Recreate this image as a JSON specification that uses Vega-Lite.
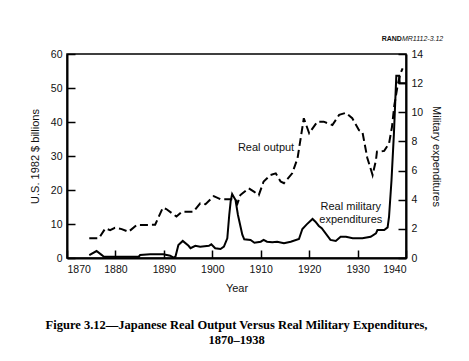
{
  "$schema": "https://vega.github.io/schema/vega-lite/v6.json",
  "width": 339,
  "height": 204,
  "autosize": "none",
  "padding": {"left": 67, "top": 54, "right": 63, "bottom": 103},
  "background": "white",
  "config": {
    "view": {"stroke": "black", "strokeWidth": 1.5},
    "font": "Liberation Sans",
    "axis": {
      "domainColor": "black", "domainWidth": 2,
      "tickColor": "black", "tickWidth": 1.5, "tickSize": -8,
      "labelFont": "Liberation Sans", "labelFontSize": 10.5, "labelColor": "#111",
      "titleFont": "Liberation Sans", "titleFontSize": 11, "titleFontWeight": "normal", "titleColor": "#111",
      "grid": false
    }
  },
  "title": {
    "text": ["Figure 3.12—Japanese Real Output Versus Real Military Expenditures,", "1870–1938"],
    "orient": "bottom", "anchor": "middle",
    "font": "Liberation Serif", "fontSize": 12.5, "fontWeight": "bold", "color": "black",
    "offset": 25, "lineHeight": 15
  },
  "datasets": {
    "output": [
      {"year": 1874.6, "value": 5.8}, {"year": 1876.6, "value": 5.8}, {"year": 1877.9, "value": 8.7},
      {"year": 1878.9, "value": 8.2}, {"year": 1879.9, "value": 8.9}, {"year": 1881.3, "value": 8.5},
      {"year": 1882.7, "value": 7.7}, {"year": 1884.4, "value": 9.7}, {"year": 1886.8, "value": 9.7},
      {"year": 1888.2, "value": 9.8}, {"year": 1889.8, "value": 14.8}, {"year": 1890.5, "value": 14.4},
      {"year": 1892.6, "value": 12.2}, {"year": 1893.7, "value": 13.6}, {"year": 1896.1, "value": 13.6},
      {"year": 1897.5, "value": 16.1}, {"year": 1898.6, "value": 15.8}, {"year": 1900.3, "value": 18.2},
      {"year": 1901.7, "value": 17.3}, {"year": 1903.3, "value": 17.3}, {"year": 1904.8, "value": 17.3},
      {"year": 1905.2, "value": 16.0}, {"year": 1905.8, "value": 18.5}, {"year": 1907.5, "value": 20.5},
      {"year": 1908.6, "value": 19.5}, {"year": 1909.6, "value": 18.5}, {"year": 1910.6, "value": 22.5},
      {"year": 1912.0, "value": 24.4}, {"year": 1913.1, "value": 24.9}, {"year": 1914.1, "value": 22.5},
      {"year": 1914.8, "value": 22.0}, {"year": 1916.5, "value": 24.9}, {"year": 1917.6, "value": 29.3},
      {"year": 1918.9, "value": 41.1}, {"year": 1920.0, "value": 36.7}, {"year": 1921.7, "value": 40.1},
      {"year": 1923.0, "value": 40.1}, {"year": 1924.8, "value": 39.1}, {"year": 1926.2, "value": 42.1},
      {"year": 1927.6, "value": 42.7}, {"year": 1928.9, "value": 41.1}, {"year": 1930.3, "value": 37.6},
      {"year": 1931.0, "value": 37.1}, {"year": 1932.0, "value": 29.5}, {"year": 1933.1, "value": 24.4},
      {"year": 1933.8, "value": 28.8}, {"year": 1934.0, "value": 31.3}, {"year": 1935.5, "value": 31.5},
      {"year": 1936.5, "value": 33.7}, {"year": 1937.1, "value": 38.5}, {"year": 1937.6, "value": 45.0},
      {"year": 1938.3, "value": 51.0}, {"year": 1938.8, "value": 54.0}, {"year": 1939.3, "value": 55.8}
    ],
    "military": [
      {"year": 1874.6, "value": 0.2}, {"year": 1876.1, "value": 0.48}, {"year": 1877.2, "value": 0.2},
      {"year": 1877.6, "value": 0.09}, {"year": 1884.8, "value": 0.09}, {"year": 1885.1, "value": 0.2},
      {"year": 1887.2, "value": 0.25}, {"year": 1889.9, "value": 0.25}, {"year": 1891.3, "value": 0.16},
      {"year": 1892.0, "value": 0.02}, {"year": 1892.4, "value": 0.1}, {"year": 1893.0, "value": 0.89},
      {"year": 1893.9, "value": 1.17}, {"year": 1895.1, "value": 0.84}, {"year": 1895.5, "value": 0.67},
      {"year": 1896.5, "value": 0.84}, {"year": 1897.5, "value": 0.78}, {"year": 1899.3, "value": 0.84},
      {"year": 1899.8, "value": 0.94}, {"year": 1900.6, "value": 0.67}, {"year": 1901.7, "value": 0.62},
      {"year": 1902.4, "value": 0.78}, {"year": 1903.1, "value": 1.35}, {"year": 1903.5, "value": 2.95},
      {"year": 1903.8, "value": 3.9}, {"year": 1904.1, "value": 4.39}, {"year": 1904.8, "value": 3.98},
      {"year": 1905.3, "value": 2.95}, {"year": 1906.2, "value": 1.6}, {"year": 1906.6, "value": 1.28},
      {"year": 1907.9, "value": 1.24}, {"year": 1908.7, "value": 1.05}, {"year": 1910.0, "value": 1.12},
      {"year": 1910.6, "value": 1.24}, {"year": 1911.3, "value": 1.12}, {"year": 1912.4, "value": 1.08},
      {"year": 1913.4, "value": 1.12}, {"year": 1914.8, "value": 1.01}, {"year": 1916.2, "value": 1.12},
      {"year": 1917.9, "value": 1.3}, {"year": 1918.6, "value": 1.99}, {"year": 1919.5, "value": 2.31},
      {"year": 1920.7, "value": 2.68}, {"year": 1921.3, "value": 2.49}, {"year": 1922.0, "value": 2.2},
      {"year": 1922.6, "value": 2.04}, {"year": 1924.4, "value": 1.24}, {"year": 1925.5, "value": 1.17},
      {"year": 1926.5, "value": 1.46}, {"year": 1927.6, "value": 1.46}, {"year": 1929.0, "value": 1.35},
      {"year": 1931.0, "value": 1.35}, {"year": 1932.7, "value": 1.46}, {"year": 1933.8, "value": 1.69},
      {"year": 1934.1, "value": 1.92}, {"year": 1935.5, "value": 1.92}, {"year": 1936.2, "value": 2.1},
      {"year": 1936.5, "value": 2.84}, {"year": 1937.0, "value": 5.3}, {"year": 1937.5, "value": 8.5},
      {"year": 1938.0, "value": 12.5}, {"year": 1938.6, "value": 12.5}, {"year": 1938.7, "value": 12.0},
      {"year": 1940.0, "value": 12.0}
    ]
  },
  "encoding": {
    "x": {
      "field": "year", "type": "quantitative",
      "scale": {"domain": [1870, 1940], "nice": false, "zero": false},
      "axis": {"values": [1870, 1880, 1890, 1900, 1910, 1920, 1930, 1940], "format": "d", "title": "Year", "labelPadding": 14, "titlePadding": 8}
    }
  },
  "layer": [
    {
      "encoding": {
        "y": {
          "field": "value", "type": "quantitative",
          "scale": {"domain": [0, 60], "nice": false},
          "axis": {"values": [0, 10, 20, 30, 40, 50, 60], "title": "U.S. 1982 $ billions", "labelPadding": 13, "titlePadding": 10}
        }
      },
      "layer": [
        {
          "data": {"name": "output"},
          "mark": {"type": "line", "color": "black", "strokeWidth": 2, "strokeDash": [8, 4]}
        },
        {
          "data": {"values": [
            {"year": 1911.1, "value": 32.3, "label": "Real output"},
            {"year": 1928.6, "value": 15.1, "label": "Real military"},
            {"year": 1928.6, "value": 11.2, "label": "expenditures"}
          ]},
          "mark": {"type": "text", "fontSize": 11, "color": "#111", "font": "Liberation Sans"},
          "encoding": {"text": {"field": "label"}}
        },
        {
          "data": {"values": [{"year": 1939.15, "value": 64.4, "label": "RAND"}]},
          "mark": {"type": "text", "fontSize": 7, "fontWeight": "bold", "align": "right", "color": "#111", "font": "Liberation Sans"},
          "encoding": {"text": {"field": "label"}}
        },
        {
          "data": {"values": [{"year": 1939.15, "value": 64.4, "label": "MR1112-3.12"}]},
          "mark": {"type": "text", "fontSize": 7, "fontStyle": "italic", "align": "left", "color": "#111", "font": "Liberation Sans"},
          "encoding": {"text": {"field": "label"}}
        }
      ]
    },
    {
      "data": {"name": "military"},
      "mark": {"type": "line", "color": "black", "strokeWidth": 2},
      "encoding": {
        "y": {
          "field": "value", "type": "quantitative",
          "scale": {"domain": [0, 14], "nice": false},
          "axis": {"orient": "right", "values": [0, 2, 4, 6, 8, 10, 12, 14], "title": "Military expenditures", "labelPadding": 13, "titlePadding": 8}
        }
      }
    }
  ],
  "resolve": {"scale": {"y": "independent"}}
}
